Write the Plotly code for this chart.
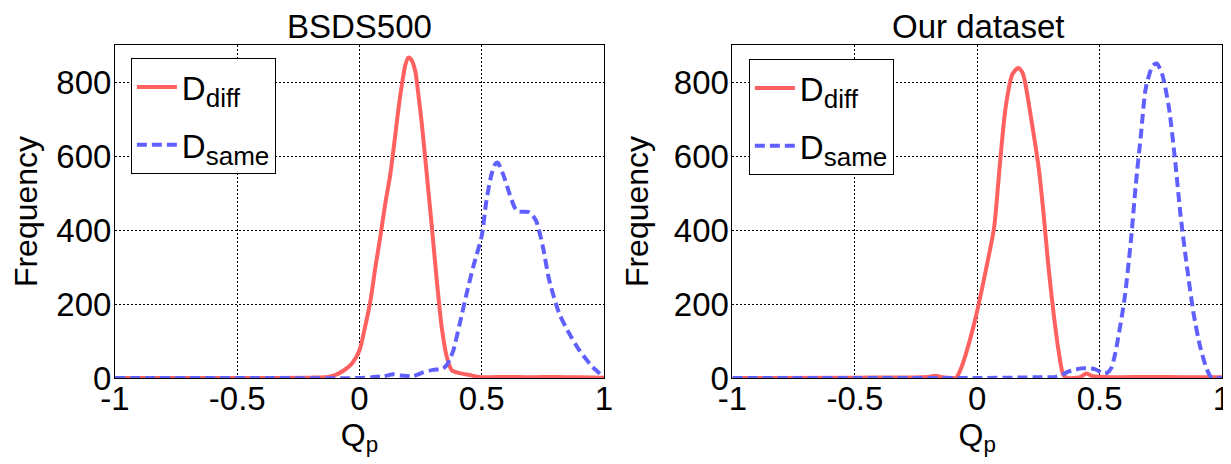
import plotly.graph_objects as go

# ---- data ----
bsds_diff_x = [-1.0, -0.5, -0.2, -0.13, -0.1, -0.063, -0.03, 0.0, 0.02, 0.045, 0.065, 0.087, 0.105,
               0.126, 0.145, 0.16, 0.175, 0.187, 0.2, 0.21, 0.228, 0.24, 0.255, 0.275, 0.296, 0.316,
               0.336, 0.357, 0.377, 0.41, 0.45, 0.5, 0.6, 0.7, 0.8, 0.9, 1.0]
bsds_diff_y = [0, 0, 1, 3, 8, 21, 40, 75, 130, 210, 300, 390, 470,
               551, 650, 731, 800, 845, 866, 862, 830, 770, 686, 551, 407, 264,
               138, 57, 21, 13, 8, 2, 3, 2, 3, 2, 1]

bsds_same_x = [-1.0, -0.5, 0.0, 0.05, 0.1, 0.14, 0.18, 0.22, 0.26, 0.3, 0.34, 0.357, 0.372, 0.384,
               0.41, 0.438, 0.465, 0.5, 0.519, 0.54, 0.555, 0.565, 0.587, 0.614, 0.635, 0.648,
               0.695, 0.722, 0.75, 0.776, 0.817, 0.858, 0.899, 0.953, 1.0]
bsds_same_y = [0, 0, 0, 2, 5, 10, 6, 5, 15, 22, 25, 35, 55, 75,
               147, 228, 300, 385, 479, 551, 578, 582, 551, 497, 460, 450,
               448, 425, 354, 264, 174, 120, 75, 30, 2]

our_diff_x = [-1.0, -0.5, -0.2, -0.17, -0.14, -0.1, -0.087, -0.07, -0.046, -0.006, 0.035, 0.069,
              0.085, 0.095, 0.116, 0.143, 0.167, 0.185, 0.197, 0.224, 0.251, 0.271, 0.291, 0.312,
              0.332, 0.352, 0.37, 0.42, 0.446, 0.47, 0.55, 0.7, 0.85, 1.0]
our_diff_y = [0, 1, 3, 6, 2, 0, 0, 20, 66, 165, 291, 407,
              520, 596, 731, 820, 838, 825, 794, 686, 569, 444, 300, 174,
              75, 8, 0, 2, 12, 5, 2, 3, 2, 2]

our_same_x = [-1.0, 0.0, 0.25, 0.32, 0.35, 0.372, 0.426, 0.48, 0.51, 0.53, 0.547, 0.56, 0.574,
              0.601, 0.628, 0.648, 0.669, 0.689, 0.716, 0.733, 0.756, 0.783, 0.81, 0.83, 0.857,
              0.884, 0.911, 0.939, 0.959, 1.0]
our_same_y = [0, 0, 2, 3, 10, 17, 26, 24, 14, 14, 26, 55, 102,
              210, 372, 524, 659, 785, 843, 850, 820, 731, 578, 444, 300,
              174, 84, 22, 0, 0]

titles = ["BSDS500", "Our dataset"]
x_ticks = [-1, -0.5, 0, 0.5, 1]
x_tick_text = ["-1", "-0.5", "0", "0.5", "1"]
y_ticks = [0, 200, 400, 600, 800]
name_diff = "D<sub><span style='font-size:26px'>diff</span></sub>"
name_same = "D<sub><span style='font-size:26px'>same</span></sub>"

RED = "rgb(255,96,96)"
BLUE = "rgb(96,96,255)"
FONT = "Arial, Liberation Sans, sans-serif"

fig = go.Figure()
line_kw = dict(shape="spline", smoothing=0.7)
fig.add_trace(go.Scatter(x=bsds_diff_x, y=bsds_diff_y, mode="lines", name=name_diff,
                         line=dict(color=RED, width=4, **line_kw), xaxis="x", yaxis="y",
                         legend="legend", legendgroup="a"))
fig.add_trace(go.Scatter(x=bsds_same_x, y=bsds_same_y, mode="lines", name=name_same,
                         line=dict(color=BLUE, width=4, dash="10px,5px", **line_kw), xaxis="x", yaxis="y",
                         legend="legend", legendgroup="b"))
fig.add_trace(go.Scatter(x=our_diff_x, y=our_diff_y, mode="lines", name=name_diff,
                         line=dict(color=RED, width=4, **line_kw), xaxis="x2", yaxis="y2",
                         legend="legend2", legendgroup="c"))
fig.add_trace(go.Scatter(x=our_same_x, y=our_same_y, mode="lines", name=name_same,
                         line=dict(color=BLUE, width=4, dash="10px,5px", **line_kw), xaxis="x2", yaxis="y2",
                         legend="legend2", legendgroup="d"))

# the page body has an 8px margin, so the figure is drawn 8px right/down
OFF = 8
W, H = 1231 - OFF, 464 - OFF
L, R, T, B = 115 - OFF, 0, 45 - OFF, 86
PW, PH = W - L - R, H - T - B

def px(x):  # screen pixel -> paper fraction
    return (x - OFF - L) / PW

def py(y):
    return (H - B - (y - OFF)) / PH

tickfont = dict(size=33, color="black", family=FONT)
axis_common = dict(showline=True, linecolor="black", linewidth=1, mirror=True,
                   showgrid=True, gridcolor="black", gridwidth=1, griddash="2px,2px",
                   zeroline=False, ticks="", tickfont=tickfont)

xa = dict(axis_common, range=[-1, 1], tickvals=x_ticks, ticktext=x_tick_text,
          ticklabelstandoff=-9, ticklabeloverflow="allow",
          title=dict(text="Q<sub>p</sub>", font=dict(size=32, color="black", family=FONT), standoff=0))
ya = dict(axis_common, range=[0, 900], tickvals=y_ticks, ticklabelstandoff=-4,
          title=dict(text="Frequency", font=dict(size=32, color="black", family=FONT)))

legend_common = dict(bgcolor="white", bordercolor="black", borderwidth=1,
                     font=dict(size=33, color="black", family=FONT),
                     xanchor="left", yanchor="top", tracegroupgap=12, itemwidth=40)

fig.update_layout(
    width=W, height=H,
    margin=dict(l=L, r=R, t=T, b=B),
    plot_bgcolor="white", paper_bgcolor="white",
    font=dict(family=FONT, color="black"),
    xaxis=dict(xa, domain=[0, px(608)], anchor="y"),
    yaxis=dict(ya, domain=[0, 1], anchor="x"),
    xaxis2=dict(xa, domain=[px(737.5), 1], anchor="y2"),
    yaxis2=dict(ya, domain=[0, 1], anchor="x2"),
    legend=dict(legend_common, x=px(131), y=py(58)),
    legend2=dict(legend_common, x=px(754), y=py(59)),
    showlegend=True,
    annotations=[
        dict(text=titles[0], x=(px(115) + px(608)) / 2, y=py(26), xref="paper", yref="paper",
             showarrow=False, font=dict(size=33, color="black", family=FONT),
             xanchor="center", yanchor="middle"),
        dict(text=titles[1], x=(px(737.5) + px(1232)) / 2, y=py(26), xref="paper", yref="paper",
             showarrow=False, font=dict(size=33, color="black", family=FONT),
             xanchor="center", yanchor="middle"),
    ],
)

fig.write_html("out.html")
